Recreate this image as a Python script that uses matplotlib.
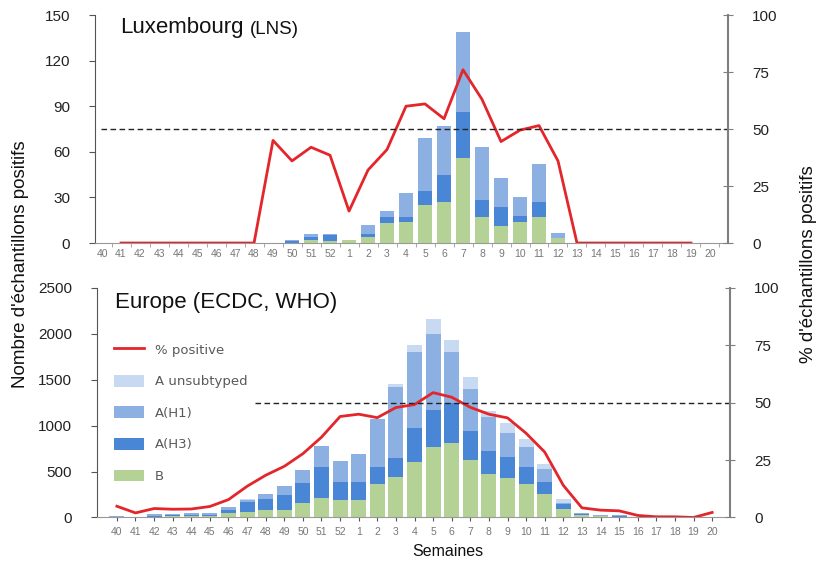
import numpy as np
import matplotlib.pyplot as plt

plt.rcParams['font.family'] = ['Liberation Sans', 'DejaVu Sans']

# semaines 40..52 puis 1..20
weeks = [str(w) for w in range(40, 53)] + [str(w) for w in range(1, 21)]

# Luxembourg (LNS) - nombre d'echantillons positifs
lux_b = [0, 0, 0, 0, 0, 0, 0, 0, 0, 0, 0, 2, 1, 2, 4, 13, 14, 25, 27, 56, 17, 11, 14, 17, 3.5,
         0, 0, 0, 0, 0, 0, 0, 0]
lux_h3 = [0, 0, 0, 0, 0, 0, 0, 0, 0, 0, 1, 2, 4, 0, 2, 4, 3, 9, 18, 30, 11, 12.5, 4, 10, 0,
          0, 0, 0, 0, 0, 0, 0, 0]
lux_h1 = [0, 0, 0, 0, 0, 0, 0, 0, 0, 0, 1, 2, 1, 0, 6, 4, 16, 35, 32, 53, 35, 19, 12, 25, 3,
          0, 0, 0, 0, 0, 0, 0, 0]
# % positifs (semaine 41 a 19)
lux_pct = [np.nan, 0, 0, 0, 0, 0, 0, 0, 0, 45, 36, 42, 38.5, 14, 32, 41, 60, 61, 54.5, 76,
           63, 44.5, 49.5, 51.5, 36, 0, 0, 0, 0, 0, 0, 0, np.nan]

# Europe (ECDC, WHO)
eu_b = [5, 3, 10, 12, 15, 15, 51, 55, 87, 87, 160, 208, 193, 186, 364, 437, 601, 772, 816,
        627, 470, 426, 361, 255, 91, 25, 15, 10, 3, 0, 0, 0, 0]
eu_h3 = [5, 3, 10, 10, 14, 16, 36, 109, 113, 160, 211, 346, 189, 197, 189, 208, 372, 401,
         430, 310, 255, 230, 193, 135, 51, 9, 6, 5, 2, 0, 0, 0, 0]
eu_h1 = [8, 4, 13, 14, 18, 20, 22, 25, 51, 95, 149, 226, 233, 306, 517, 776, 827, 831, 561,
         466, 368, 262, 219, 135, 18, 10, 8, 7, 2, 0, 0, 0, 0]
eu_unsub = [0, 0, 0, 0, 0, 0, 0, 11, 0, 0, 0, 0, 0, 0, 0, 36, 77, 160, 124, 128, 62, 109,
            84, 58, 36, 0, 0, 0, 0, 0, 0, 0, 0]
eu_pct = [4.9, 2.0, 3.9, 3.6, 3.7, 4.8, 7.8, 13.6, 18.4, 22.3, 27.8, 35, 44, 45, 43.5, 47.9,
          49.2, 54.4, 52.4, 48, 45, 43.4, 36.7, 28.5, 14, 4.2, 3.2, 2.9, 0.9, 0.3, 0.3, 0, 2.2]

c_b = '#b5d296'
c_h3 = '#4a86d6'
c_h1 = '#8db0e2'
c_un = '#c7daf2'
c_red = '#e3262b'
grey = '#7f7f7f'

x = np.arange(len(weeks))

fig = plt.figure(figsize=(8.17, 5.62), dpi=100)
ax1 = fig.add_axes([0.1163, 0.5676, 0.7748, 0.4057])
ax2 = fig.add_axes([0.1187, 0.0792, 0.7748, 0.4084])


def style(ax, axr, ymax, yticks, tick_between):
    for s in ['top', 'right']:
        ax.spines[s].set_visible(False)
    for s in ['top', 'left', 'bottom']:
        axr.spines[s].set_visible(False)
    ax.spines['left'].set_color('#555555')
    ax.spines['bottom'].set_color('#999999')
    axr.spines['right'].set_color(grey)
    axr.spines['right'].set_linewidth(1.5)
    ax.set_ylim(0, ymax)
    ax.set_yticks(yticks)
    axr.set_ylim(0, 100)
    axr.set_yticks([0, 25, 50, 75, 100])
    ax.tick_params(axis='y', direction='out', length=4, colors='#555555',
                   labelcolor='#222222', labelsize=11, pad=14)
    axr.tick_params(axis='y', direction='inout', length=7, colors=grey,
                    labelcolor='#222222', labelsize=11, pad=14)
    ax.set_xticks(x)
    ax.set_xticklabels(weeks)
    if tick_between:
        ax.tick_params(axis='x', length=0, labelsize=7.5, labelcolor='#777777', pad=4)
        ax.set_xticks(x + 0.5, minor=True)
        ax.tick_params(axis='x', which='minor', length=3, color='#999999')
    else:
        ax.tick_params(axis='x', length=3, color='#555555', labelsize=7.5,
                       labelcolor='#777777', pad=4)


# --- Luxembourg ---
ax1r = ax1.twinx()
ax1.bar(x, lux_b, width=0.75, color=c_b)
ax1.bar(x, lux_h3, width=0.75, bottom=lux_b, color=c_h3)
ax1.bar(x, lux_h1, width=0.75, bottom=np.add(lux_b, lux_h3), color=c_h1)
ax1r.plot(x, lux_pct, color=c_red, lw=2)
ax1r.axhline(50, xmin=0.01, xmax=1, color='#222222', lw=1, ls=(0, (4, 2.5)))
ax1.set_xlim(-0.37, 32.95)
style(ax1, ax1r, 150, [0, 30, 60, 90, 120, 150], True)
t_lux = ax1.text(0.04, 0.921, 'Luxembourg', transform=ax1.transAxes, fontsize=16,
                 va='baseline', ha='left', color='#111111')
ax1.annotate('(LNS)', xy=(1, 0), xycoords=t_lux, xytext=(4, 0.3),
             textcoords='offset points', fontsize=13.5, va='bottom', ha='left',
             color='#111111')

# --- Europe ---
ax2r = ax2.twinx()
b1 = ax2.bar(x, eu_b, width=0.8, color=c_b, label='B')
bot = np.array(eu_b, dtype=float)
b2 = ax2.bar(x, eu_h3, width=0.8, bottom=bot, color=c_h3, label='A(H3)')
bot = bot + eu_h3
b3 = ax2.bar(x, eu_h1, width=0.8, bottom=bot, color=c_h1, label='A(H1)')
bot = bot + eu_h1
b4 = ax2.bar(x, eu_unsub, width=0.8, bottom=bot, color=c_un, label='A unsubtyped')
l1, = ax2r.plot(x, eu_pct, color=c_red, lw=2, label='% positive')
ax2r.axhline(50, xmin=0.25, xmax=1, color='#222222', lw=1, ls=(0, (4, 2.5)))
ax2.set_xlim(-1.07, 32.96)
style(ax2, ax2r, 2500, [0, 500, 1000, 1500, 2000, 2500], False)
ax2.text(0.028, 0.913, 'Europe (ECDC, WHO)', transform=ax2.transAxes, fontsize=16,
         va='baseline', ha='left', color='#111111')
leg = ax2r.legend([l1, b4, b3, b2, b1],
                  ['% positive', 'A unsubtyped', 'A(H1)', 'A(H3)', 'B'],
                  loc='upper left', bbox_to_anchor=(0.012, 0.8), frameon=False,
                  prop={'family': 'DejaVu Sans', 'size': 9.5}, labelspacing=1.38,
                  handlelength=2.3, handleheight=1.0, borderaxespad=0.3)
for t in leg.get_texts():
    t.set_color('#595959')

fig.text(0.025, 0.53, "Nombre d'échantillons positifs", rotation=90, va='center',
         ha='center', fontsize=13.5, color='#111111')
fig.text(0.99, 0.53, "% d'échantillons positifs", rotation=90, va='center',
         ha='center', fontsize=13.5, color='#111111')
fig.text(0.548, 0.018, 'Semaines', ha='center', va='center', fontsize=11.5,
         color='#111111')

fig.savefig('out.png', dpi=100)
